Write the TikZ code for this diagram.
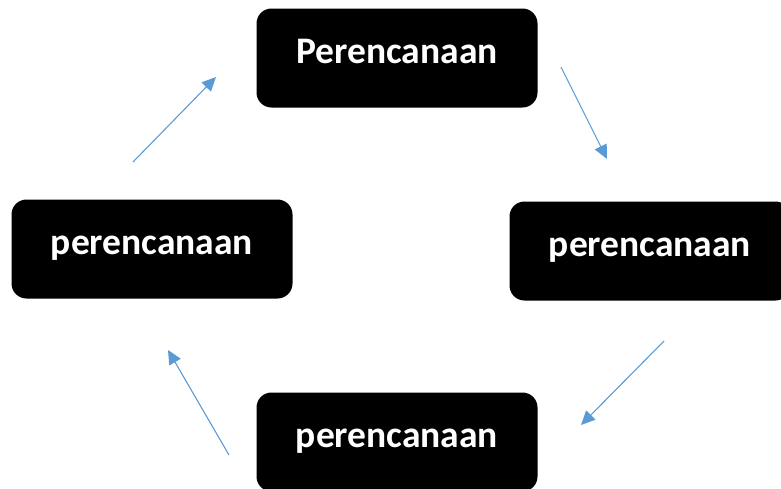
\documentclass[tikz,border=0pt]{standalone}
\usepackage{fontspec}
\setmainfont{Carlito}
\usetikzlibrary{positioning,arrows.meta}

\begin{document}
\begin{tikzpicture}[x=1pt,y=-1pt,
    phase/.style={rectangle,rounded corners=15pt,fill=black,text=white,
      minimum width=281pt,minimum height=99pt,inner sep=0pt,
      font=\bfseries\fontsize{37.5}{42}\selectfont,text height=22pt,text depth=12pt},
    flow/.style={draw={rgb,255:red,91;green,155;blue,213},line width=1.1pt,
      -{Triangle[length=14pt,width=13pt]}}]
    \useasboundingbox (0,0) rectangle (781,488);
    \clip (0,0) rectangle (781,488);

    \node[phase] (plan) at (397,58) {Perencanaan};
    \node[phase] (right) at (650,251) {perencanaan};
    \node[phase] (bottom) at (397,442) {perencanaan};
    \node[phase] (left) at (152,249) {perencanaan};

    \coordinate (a1) at (561,67);  \coordinate (b1) at (607,159);
    \coordinate (a2) at (664,341); \coordinate (b2) at (581,425);
    \coordinate (a3) at (229,455); \coordinate (b3) at (168,350);
    \coordinate (a4) at (133,162); \coordinate (b4) at (216,77);

    \draw[flow] (a1) -- (b1);
    \draw[flow] (a2) -- (b2);
    \draw[flow] (a3) -- (b3);
    \draw[flow] (a4) -- (b4);
  \end{tikzpicture}
\end{document}
